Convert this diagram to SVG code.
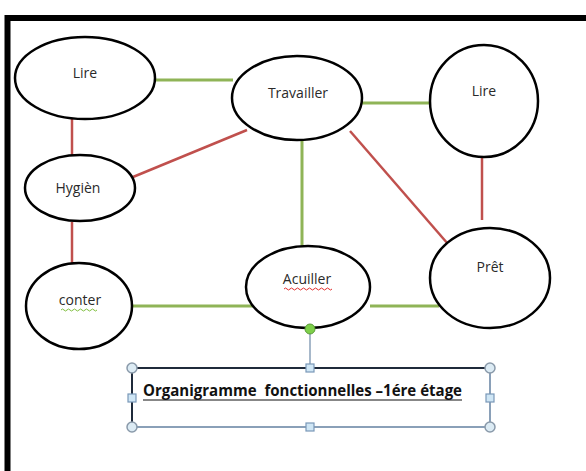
<svg xmlns="http://www.w3.org/2000/svg" width="586" height="471" viewBox="0 0 586 471">
<style>
.node{fill:#fff;stroke:#000;stroke-width:2.5}
.lbl{font-family:"Open Sans","Liberation Sans",sans-serif;font-size:14px;fill:#2a2a2a;text-anchor:middle}
.g{stroke:#8fb457;stroke-width:3;fill:none}
.r{stroke:#c0504d;stroke-width:2.5;fill:none}
.sel{stroke:#8aa0b8;stroke-width:2;fill:none}
.hc{fill:#dcebf4;stroke:#8a9aaa;stroke-width:1.5}
.hs{fill:#cfe6f5;stroke:#7a98b8;stroke-width:1.2}
</style>
<rect x="0" y="0" width="586" height="471" fill="#fff"/>
<path d="M7.5 471 V18 H586" fill="none" stroke="#000" stroke-width="6"/>
<g id="connectors">
<line class="g" x1="155" y1="80" x2="233" y2="80"/>
<line class="g" x1="362" y1="103" x2="430" y2="103"/>
<line class="r" x1="72" y1="119" x2="72" y2="155"/>
<line class="r" x1="133" y1="177" x2="247" y2="130"/>
<line class="g" x1="302" y1="140" x2="302" y2="246"/>
<line class="r" x1="350" y1="131" x2="448" y2="244"/>
<line class="r" x1="482" y1="157" x2="482" y2="220"/>
<line class="r" x1="72" y1="222" x2="72" y2="263"/>
<line class="g" x1="133" y1="306" x2="255" y2="306"/>
<line class="g" x1="370" y1="306" x2="439" y2="306"/>
</g>
<g id="lire1"><ellipse class="node" cx="85" cy="78" rx="70" ry="41"/><text class="lbl" x="85" y="78">Lire</text></g>
<g id="travailler"><ellipse class="node" cx="297" cy="98" rx="65" ry="42"/><text class="lbl" x="298" y="98">Travailler</text></g>
<g id="lire2"><ellipse class="node" cx="484" cy="101" rx="54" ry="56"/><text class="lbl" x="484" y="96">Lire</text></g>
<g id="hygien"><ellipse class="node" cx="80" cy="188" rx="55" ry="33"/><text class="lbl" x="78" y="193">Hygièn</text></g>
<g id="conter"><ellipse class="node" cx="79" cy="306" rx="53" ry="43"/><text class="lbl" x="80" y="305">conter</text><path d="M61 310 q1.5 -2 3 0 t3 0 t3 0 t3 0 t3 0 t3 0 t3 0 t3 0 t3 0 t3 0 t3 0 t3 0" fill="none" stroke="#7fbf3f" stroke-width="1"/></g>
<g id="acuiller"><ellipse class="node" cx="308" cy="287" rx="62" ry="41"/><text class="lbl" x="307" y="284">Acuiller</text><path d="M284 289 q1.5 -2 3 0 t3 0 t3 0 t3 0 t3 0 t3 0 t3 0 t3 0 t3 0 t3 0 t3 0 t3 0 t3 0 t3 0 t3 0 t3 0" fill="none" stroke="#e03030" stroke-width="1"/></g>
<g id="pret"><ellipse class="node" cx="490" cy="278" rx="60" ry="50"/><text class="lbl" x="490" y="272">Prêt</text></g>
<g id="title">
<line x1="310" y1="329" x2="310" y2="368" stroke="#8aa0b8" stroke-width="1.5"/>
<line x1="132" y1="368" x2="490" y2="368" stroke="#1f2a3a" stroke-width="2"/>
<line x1="132" y1="368" x2="132" y2="427" stroke="#1f2a3a" stroke-width="2"/>
<line class="sel" x1="132" y1="427" x2="490" y2="427"/>
<line class="sel" x1="490" y1="368" x2="490" y2="427"/>
<circle cx="310" cy="329" r="5" fill="#7ed04a" stroke="#5a9a3a" stroke-width="1"/>
<circle class="hc" cx="132" cy="368" r="5"/>
<circle class="hc" cx="490" cy="368" r="5"/>
<circle class="hc" cx="132" cy="427" r="5"/>
<circle class="hc" cx="490" cy="427" r="5"/>
<rect class="hs" x="306" y="364" width="8" height="8"/>
<rect class="hs" x="306" y="423" width="8" height="8"/>
<rect class="hs" x="128" y="394" width="8" height="8"/>
<rect class="hs" x="486" y="394" width="8" height="8"/>
<text x="143" y="396" font-family="'Open Sans','Liberation Sans',sans-serif" font-size="16" font-weight="bold" fill="#111" textLength="319" lengthAdjust="spacingAndGlyphs">Organigramme&#160; fonctionnelles –1ére étage</text>
<line x1="143" y1="400" x2="462" y2="400" stroke="#111" stroke-width="1.2"/>
</g>
</svg>
